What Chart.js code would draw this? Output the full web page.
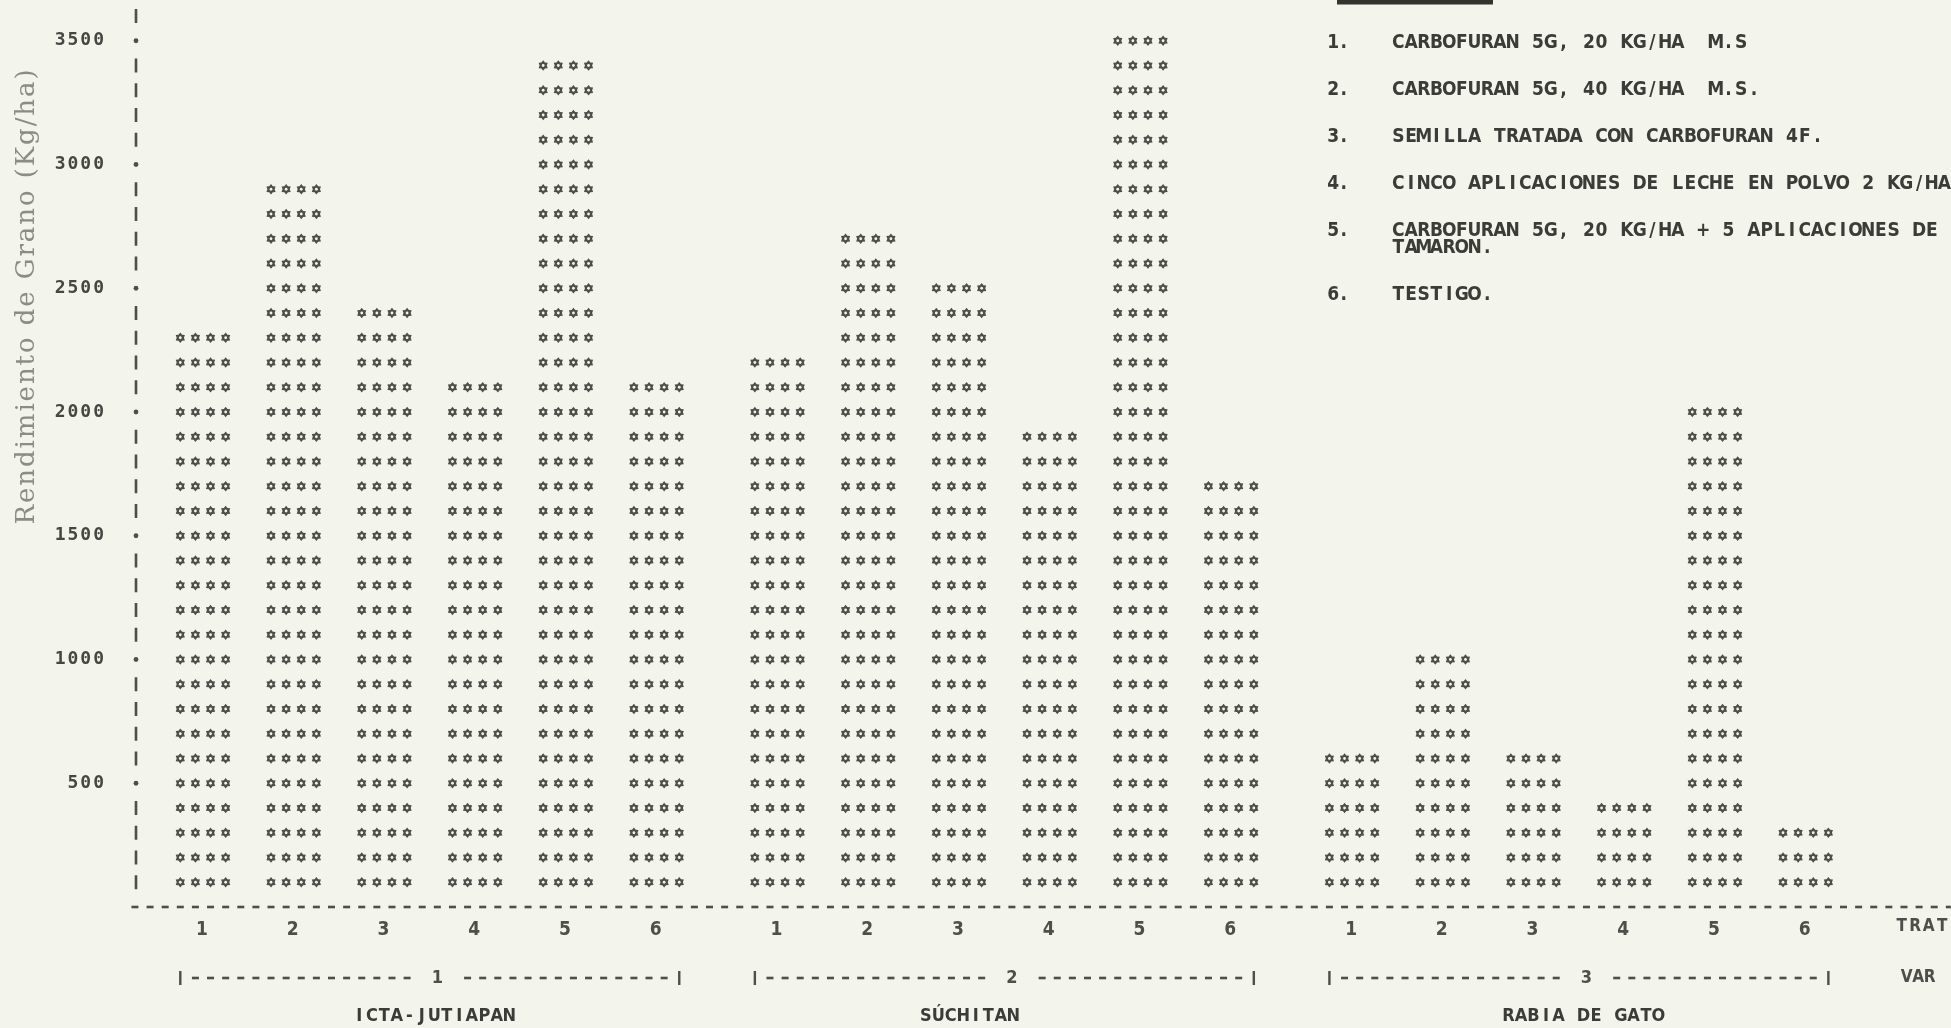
<!DOCTYPE html>
<html lang="es">
<head>
<meta charset="utf-8">
<title>Rendimiento de grano por tratamiento y variedad</title>
<script src="https://cdn.jsdelivr.net/npm/chart.js@4/dist/chart.umd.min.js"></script>
<style>
  html, body { margin: 0; padding: 0; background: #f3f4eb; }
  #wrap { width: 1951px; height: 1028px; position: relative; }
</style>
</head>
<body>
<div id="wrap"><canvas id="chart" width="1951" height="1028"></canvas></div>
<script>
// ---- data -------------------------------------------------------------
const treatments = ['1', '2', '3', '4', '5', '6'];
const varietyCodes = ['1', '2', '3'];
const varietyNames = ['ICTA-JUTIAPAN', 'SÚCHITAN', 'RABIA DE GATO'];

// grain yield (kg/ha) for treatments 1..6
const yieldIctaJutiapan = [2300, 2900, 2400, 2100, 3400, 2100];
const yieldSuchitan     = [2200, 2700, 2500, 1900, 3500, 1700];
const yieldRabiaDeGato  = [600, 1000, 600, 400, 2000, 300];

const yTickLabels = ['500', '1000', '1500', '2000', '2500', '3000', '3500'];

const treatmentKey = [
  'CARBOFURAN 5G, 20 KG/HA  M.S',
  'CARBOFURAN 5G, 40 KG/HA  M.S.',
  'SEMILLA TRATADA CON CARBOFURAN 4F.',
  'CINCO APLICACIONES DE LECHE EN POLVO 2 KG/HA',
  'CARBOFURAN 5G, 20 KG/HA + 5 APLICACIONES DE\nTAMARON.',
  'TESTIGO.'
];

const yAxisTitle = 'Rendimiento de Grano (Kg/ha)';
const treatmentAxisName = 'TRAT';
const varietyAxisName = 'VAR';

// ---- printer-page layout ----------------------------------------------
const ROW_STEP = 100;          // one printed line = 100 kg/ha
const BAR_COLS = 6;            // printer columns between bar centres
const GROUP_GAP = 2;           // extra blank columns between varieties
const GLYPHS_PER_ROW = 4;
const GROUP_COLS = treatments.length * BAR_COLS + GROUP_GAP;
const colOf = (g, t) => g * GROUP_COLS + t * BAR_COLS;

const AXIS_X = 136;                    // left edge of the plotting area
const X_MIN = -4.43, X_MAX = 115.61;   // visible printer columns
const Y_MAX = Math.max(...yTickLabels.map(Number)) + ROW_STEP;
const NAME_SHIFT = [0.3, -2.3, 0.3];   // variety names, in columns from bracket centre

const INK = '#4e4e4b';
const TEXT_INK = '#3b3b38';
const PAPER = '#f3f4eb';
const PRINT_FONT = '"Liberation Sans Narrow", "DejaVu Sans Condensed", "DejaVu Sans", sans-serif';

const series = [yieldIctaJutiapan, yieldSuchitan, yieldRabiaDeGato];
const barCols = [];
series.forEach((vals, g) => vals.forEach((v, t) => barCols.push(colOf(g, t))));

// one character per fixed-width cell, like a line printer
function printText(ctx, text, x, y, pitch, align) {
  const chars = Array.from(text);
  const w = chars.length * pitch;
  const x0 = align === 'center' ? x - w / 2 : align === 'right' ? x - w : x;
  ctx.textAlign = 'center';
  ctx.textBaseline = 'middle';
  chars.forEach((ch, i) => { if (ch !== ' ') ctx.fillText(ch, x0 + (i + 0.5) * pitch, y); });
}

function setCondensed(ctx, on) {
  if ('fontStretch' in ctx) ctx.fontStretch = on ? 'condensed' : 'normal';
}

function drawStar(ctx, cx, cy) {
  ctx.beginPath();
  for (let i = 0; i < 12; i++) {
    const a = -Math.PI / 2 + i * Math.PI / 6;
    const r = i % 2 ? 3.6 : 5.3;
    const px = cx + r * Math.cos(a), py = cy + r * Math.sin(a);
    if (i) ctx.lineTo(px, py); else ctx.moveTo(px, py);
  }
  ctx.closePath();
  ctx.fill();
  ctx.save();
  ctx.fillStyle = PAPER;
  ctx.beginPath();
  ctx.arc(cx, cy, 1.4, 0, Math.PI * 2);
  ctx.fill();
  ctx.restore();
}

const printerPage = {
  id: 'printerPage',
  beforeDraw(chart) {
    const ctx = chart.ctx;
    ctx.save();
    ctx.fillStyle = PAPER;
    ctx.fillRect(0, 0, chart.width, chart.height);
    ctx.restore();
    if ('letterSpacing' in ctx) ctx.letterSpacing = '2px';
  },
  afterDatasetsDraw(chart) {
    const { ctx, scales: { x, y }, chartArea } = chart;
    if ('letterSpacing' in ctx) ctx.letterSpacing = '0px';
    const pitch = x.getPixelForValue(1) - x.getPixelForValue(0);
    const axisX = chartArea.left;
    const y0 = y.getPixelForValue(0);

    ctx.save();
    ctx.fillStyle = INK;

    // bars: one row of glyphs per printed line
    chart.data.datasets.forEach((ds, i) => {
      const meta = chart.getDatasetMeta(i);
      meta.data.forEach((bar, j) => {
        const v = ds.data[j].y;
        for (let r = ROW_STEP; r <= v; r += ROW_STEP) {
          const py = y.getPixelForValue(r);
          for (let k = 0; k < GLYPHS_PER_ROW; k++) {
            drawStar(ctx, bar.x + (k - (GLYPHS_PER_ROW - 1) / 2) * pitch, py);
          }
        }
      });
    });

    // vertical axis: '|' on every line, dot on labelled lines
    const labelled = new Set(yTickLabels.map(Number));
    for (let v = ROW_STEP; v <= y.max; v += ROW_STEP) {
      const py = y.getPixelForValue(v);
      if (labelled.has(v)) {
        ctx.beginPath();
        ctx.arc(axisX, py, 2.4, 0, Math.PI * 2);
        ctx.fill();
      } else {
        ctx.fillRect(axisX - 1.3, py - 7, 2.6, 14);
      }
    }

    // dashed base line, one dash per printer column
    for (let c = Math.round(x.min) - 0.5; c <= x.max + 0.5; c += 1) {
      ctx.fillRect(x.getPixelForValue(c) - 3.5, y0 - 1.3, 7, 2.6);
    }

    // variety brackets  |------- n -------|
    const yBr = y0 + 71;
    varietyCodes.forEach((code, g) => {
      const first = colOf(g, 0) - 1.5;
      const last = colOf(g, treatments.length - 1) + 1.5;
      const mid = (first + last) / 2 + 0.5;
      ctx.fillRect(x.getPixelForValue(first) - 1.2, yBr - 7, 2.4, 14);
      ctx.fillRect(x.getPixelForValue(last) - 1.2, yBr - 7, 2.4, 14);
      for (let c = first + 1; c < last; c += 1) {
        if (Math.abs(c - mid) <= 1) continue;
        ctx.fillRect(x.getPixelForValue(c) - 3.5, yBr - 1.3, 7, 2.6);
      }
      ctx.font = 'bold 18px ' + PRINT_FONT;
      setCondensed(ctx, true);
      printText(ctx, code, x.getPixelForValue(mid), yBr, pitch, 'center');
      // variety name
      ctx.fillStyle = TEXT_INK;
      printText(ctx, varietyNames[g], x.getPixelForValue(mid - 0.5 + NAME_SHIFT[g]), y0 + 109, 12.5, 'center');
      ctx.fillStyle = INK;
    });

    // axis names at the right edge
    ctx.font = 'bold 17px ' + PRINT_FONT;
    setCondensed(ctx, true);
    printText(ctx, treatmentAxisName, x.getPixelForValue(111.9), y0 + 20, 13.5, 'left');
    printText(ctx, varietyAxisName, x.getPixelForValue(112.3), yBr, 11.5, 'left');

    // treatment key, top right
    ctx.fillStyle = '#33332f';
    ctx.fillRect(1337, 0, 156, 4.5);
    ctx.fillStyle = TEXT_INK;
    ctx.font = 'bold 19px ' + PRINT_FONT;
    let ky = 43;
    treatmentKey.forEach((item, i) => {
      const lines = item.split('\n');
      printText(ctx, (i + 1) + '.', 1328, ky, 10.5, 'left');
      lines.forEach((line, li) => {
        printText(ctx, line, 1392, ky + li * 17, 12.7, 'left');
      });
      ky += 47 + (lines.length - 1) * 17;
    });
    setCondensed(ctx, false);

    // y-axis title
    ctx.save();
    ctx.fillStyle = '#8b8c85';
    ctx.font = '26px "DejaVu Serif", "Liberation Serif", serif';
    ctx.translate(27, 296);
    ctx.rotate(-Math.PI / 2);
    ctx.textAlign = 'center';
    ctx.textBaseline = 'middle';
    const w = ctx.measureText(yAxisTitle).width;
    if ('letterSpacing' in ctx) {
      ctx.letterSpacing = ((457 - w) / yAxisTitle.length).toFixed(2) + 'px';
    }
    ctx.fillText(yAxisTitle, 0, 0);
    ctx.restore();

    ctx.restore();
  }
};

new Chart(document.getElementById('chart'), {
  type: 'bar',
  data: {
    datasets: series.map((vals, g) => ({
      label: varietyNames[g],
      data: vals.map((v, t) => ({ x: colOf(g, t), y: v })),
      backgroundColor: 'rgba(0,0,0,0)',
      borderWidth: 0,
      barThickness: 56,
      grouped: false
    }))
  },
  options: {
    responsive: false,
    animation: false,
    devicePixelRatio: 1,
    layout: { padding: { top: 16, left: 0, right: 0, bottom: 0 } },
    plugins: { legend: { display: false }, tooltip: { enabled: false } },
    scales: {
      x: {
        type: 'linear',
        min: X_MIN,
        max: X_MAX,
        offset: false,
        grid: { display: false, drawTicks: false },
        border: { display: false },
        afterBuildTicks: s => { s.ticks = barCols.map(c => ({ value: c })); },
        afterFit: s => { s.height = 121; s.paddingLeft = 0; s.paddingRight = 0; },
        ticks: {
          autoSkip: false,
          maxRotation: 0,
          padding: 12,
          color: INK,
          font: { family: PRINT_FONT, size: 19, weight: 'bold' },
          callback: (v, i) => treatments[i % treatments.length]
        }
      },
      y: {
        min: 0,
        max: Y_MAX,
        grid: { display: false, drawTicks: false },
        border: { display: false },
        afterBuildTicks: s => { s.ticks = yTickLabels.map(l => ({ value: Number(l) })); },
        afterFit: s => { s.width = AXIS_X; s.paddingTop = 0; s.paddingBottom = 0; },
        ticks: {
          padding: 30,
          color: '#464643',
          font: { family: '"DejaVu Sans Mono", monospace', size: 18, weight: 'bold' },
          callback: (v, i) => yTickLabels[i]
        }
      }
    }
  },
  plugins: [printerPage]
});
</script>
</body>
</html>
